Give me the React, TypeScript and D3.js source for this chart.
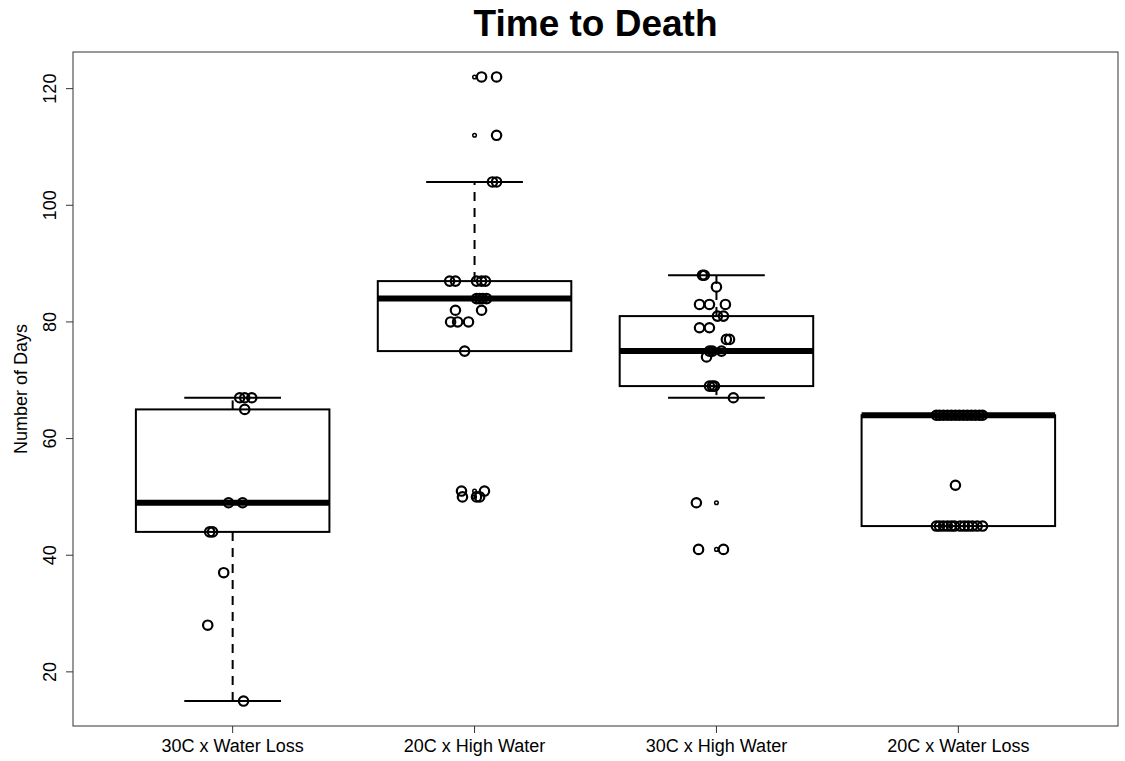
import React, { useEffect, useRef } from "react";
import * as d3 from "d3";

const categories = ["30C x Water Loss", "20C x High Water", "30C x High Water", "20C x Water Loss"];

// boxplot stats per group
const whiskerLow = [15, 75, 67, 45];
const boxLow = [44, 75, 69, 45];
const medians = [49, 84, 75, 64];
const boxHigh = [65, 87, 81, 64];
const whiskerHigh = [67, 104, 88, 64];
const outliers = [[], [122, 112, 51, 50], [49, 41], []];

// jittered observations (value, horizontal jitter in group units)
const days1 = [67, 67, 67, 65, 49, 49, 44, 44, 37, 28, 15];
const jitter1 = [0.029, 0.05, 0.079, 0.05, -0.017, 0.041, -0.095, -0.083, -0.037, -0.103, 0.045];
const days2 = [122, 122, 112, 104, 104, 87, 87, 87, 87, 87, 84, 84, 84, 84, 82, 82, 80, 80, 80, 75, 51, 51, 50, 50, 50];
const jitter2 = [0.029, 0.091, 0.091, 0.074, 0.091, -0.103, -0.079, 0.008, 0.029, 0.045, 0.008, 0.021, 0.033, 0.05, -0.079, 0.029, -0.099, -0.07, -0.025, -0.041, -0.054, 0.041, -0.05, 0.008, 0.021];
const days3 = [88, 88, 86, 83, 83, 83, 81, 81, 79, 79, 77, 77, 75, 75, 75, 74, 69, 69, 69, 67, 49, 41, 41];
const jitter3 = [-0.058, -0.05, 0, -0.07, -0.029, 0.037, 0.004, 0.029, -0.07, -0.029, 0.041, 0.054, -0.029, -0.017, 0.021, -0.041, -0.029, -0.017, -0.008, 0.07, -0.083, -0.074, 0.029];
const days4 = [64, 64, 64, 64, 64, 64, 64, 64, 64, 64, 64, 64, 64, 52, 45, 45, 45, 45, 45, 45, 45, 45, 45, 45, 45, 45];
const jitter4 = [-0.091, -0.078, -0.062, -0.045, -0.029, -0.012, 0.004, 0.021, 0.037, 0.054, 0.07, 0.087, 0.1, -0.012, -0.091, -0.078, -0.062, -0.045, -0.029, -0.016, 0.008, 0.025, 0.041, 0.058, 0.078, 0.1];

const groupDays = [days1, days2, days3, days4];
const groupJitter = [jitter1, jitter2, jitter3, jitter4];

const yTicks = [20, 40, 60, 80, 100, 120];

const BoxChart = () => {
  const ref = useRef<SVGSVGElement | null>(null);

  useEffect(() => {
    const svg = d3.select(ref.current);
    svg.selectAll("*").remove();

    const width = 1125;
    const height = 761;
    const margin = { top: 52, right: 7, bottom: 35, left: 73 };
    const font = "Liberation Sans, Arial, sans-serif";

    const x = d3.scaleLinear().domain([0.34, 4.66]).range([margin.left, width - margin.right]);
    const y = d3.scaleLinear().domain([10.72, 126.28]).range([height - margin.bottom, margin.top]);

    svg.attr("viewBox", [0, 0, width, height]).attr("width", width).attr("height", height);
    svg.append("rect").attr("width", width).attr("height", height).attr("fill", "white");

    // title
    svg
      .append("text")
      .attr("x", (margin.left + width - margin.right) / 2)
      .attr("y", 36)
      .attr("text-anchor", "middle")
      .style("font-family", font)
      .style("font-weight", "bold")
      .style("font-size", "37px")
      .text("Time to Death");

    // y axis
    const yAxis = svg.append("g").attr("transform", `translate(${margin.left},0)`);
    yAxis
      .selectAll("line")
      .data(yTicks)
      .join("line")
      .attr("x1", -7)
      .attr("x2", 0)
      .attr("y1", (d) => y(d))
      .attr("y2", (d) => y(d))
      .attr("stroke", "#333");
    yAxis
      .selectAll("text")
      .data(yTicks)
      .join("text")
      .attr("transform", (d) => `translate(-17,${y(d)}) rotate(-90)`)
      .attr("text-anchor", "middle")
      .style("font-family", font)
      .style("font-size", "18px")
      .text((d) => d);

    svg
      .append("text")
      .attr("transform", `translate(27,${(margin.top + height - margin.bottom) / 2}) rotate(-90)`)
      .attr("text-anchor", "middle")
      .style("font-family", font)
      .style("font-size", "18px")
      .text("Number of Days");

    // x axis
    const xAxis = svg.append("g").attr("transform", `translate(0,${height - margin.bottom})`);
    xAxis
      .selectAll("line")
      .data(categories)
      .join("line")
      .attr("x1", (d, i) => x(i + 1))
      .attr("x2", (d, i) => x(i + 1))
      .attr("y1", 0)
      .attr("y2", 7)
      .attr("stroke", "#333");
    xAxis
      .selectAll("text")
      .data(categories)
      .join("text")
      .attr("x", (d, i) => x(i + 1))
      .attr("y", 26)
      .attr("text-anchor", "middle")
      .style("font-family", font)
      .style("font-size", "18px")
      .text((d) => d);

    // frame
    svg
      .append("rect")
      .attr("x", margin.left)
      .attr("y", margin.top)
      .attr("width", width - margin.left - margin.right)
      .attr("height", height - margin.top - margin.bottom)
      .attr("fill", "none")
      .attr("stroke", "#333");

    const boxHalf = 0.4;
    const capHalf = 0.2;

    const boxes = svg
      .append("g")
      .selectAll("g")
      .data(categories)
      .join("g");

    // dashed whiskers
    boxes
      .append("line")
      .attr("x1", (d, i) => x(i + 1))
      .attr("x2", (d, i) => x(i + 1))
      .attr("y1", (d, i) => y(boxLow[i]))
      .attr("y2", (d, i) => y(whiskerLow[i]))
      .attr("stroke", "black")
      .attr("stroke-width", 2)
      .attr("stroke-dasharray", "9,7");
    boxes
      .append("line")
      .attr("x1", (d, i) => x(i + 1))
      .attr("x2", (d, i) => x(i + 1))
      .attr("y1", (d, i) => y(boxHigh[i]))
      .attr("y2", (d, i) => y(whiskerHigh[i]))
      .attr("stroke", "black")
      .attr("stroke-width", 2)
      .attr("stroke-dasharray", "9,7");

    // caps
    [whiskerLow, whiskerHigh].forEach((vals) => {
      boxes
        .append("line")
        .attr("x1", (d, i) => x(i + 1 - capHalf))
        .attr("x2", (d, i) => x(i + 1 + capHalf))
        .attr("y1", (d, i) => y(vals[i]))
        .attr("y2", (d, i) => y(vals[i]))
        .attr("stroke", "black")
        .attr("stroke-width", 2);
    });

    // box
    boxes
      .append("rect")
      .attr("x", (d, i) => x(i + 1 - boxHalf))
      .attr("width", x(1 + boxHalf) - x(1 - boxHalf))
      .attr("y", (d, i) => y(boxHigh[i]))
      .attr("height", (d, i) => y(boxLow[i]) - y(boxHigh[i]))
      .attr("fill", "white")
      .attr("stroke", "black")
      .attr("stroke-width", 2);

    // median
    boxes
      .append("line")
      .attr("x1", (d, i) => x(i + 1 - boxHalf))
      .attr("x2", (d, i) => x(i + 1 + boxHalf))
      .attr("y1", (d, i) => y(medians[i]))
      .attr("y2", (d, i) => y(medians[i]))
      .attr("stroke", "black")
      .attr("stroke-width", 6);

    // boxplot outliers (small circles)
    boxes
      .selectAll("circle.out")
      .data((d, i) => outliers[i].map((v) => ({ g: i, v })))
      .join("circle")
      .attr("class", "out")
      .attr("cx", (d) => x(d.g + 1))
      .attr("cy", (d) => y(d.v))
      .attr("r", 1.8)
      .attr("fill", "none")
      .attr("stroke", "black")
      .attr("stroke-width", 1.5);

    // jittered points
    const pts = groupDays.flatMap((vals, g) => vals.map((v, k) => ({ g, v, j: groupJitter[g][k] })));
    svg
      .append("g")
      .selectAll("circle")
      .data(pts)
      .join("circle")
      .attr("cx", (d) => x(d.g + 1 + d.j))
      .attr("cy", (d) => y(d.v))
      .attr("r", 4.7)
      .attr("fill", "none")
      .attr("stroke", "black")
      .attr("stroke-width", 2.2);
  }, []);

  return <svg ref={ref} style={{ position: "absolute", left: 0, top: 0 }} />;
};

export default function App() {
  return <BoxChart />;
}
